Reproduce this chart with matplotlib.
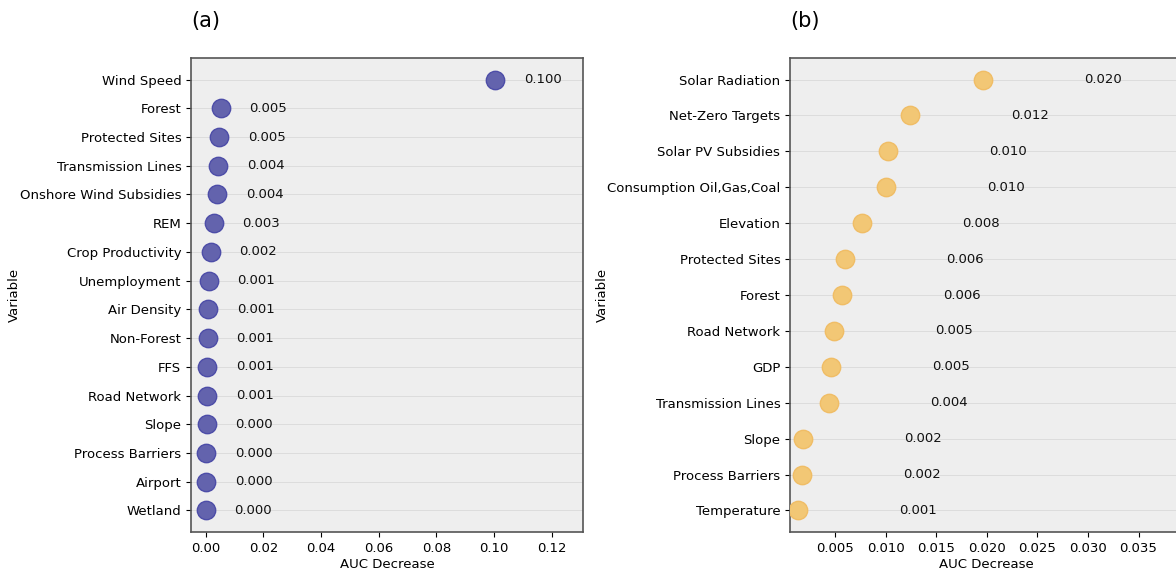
import matplotlib
matplotlib.use("Agg")
import matplotlib.pyplot as plt

# Permutation importance, wind model
wind_vars = ["Wind Speed", "Forest", "Protected Sites", "Transmission Lines",
             "Onshore Wind Subsidies", "REM", "Crop Productivity", "Unemployment",
             "Air Density", "Non-Forest", "FFS", "Road Network", "Slope",
             "Process Barriers", "Airport", "Wetland"]
wind_auc = [0.1003, 0.0052, 0.0046, 0.0043, 0.0039, 0.0028, 0.0017, 0.0010,
            0.0009, 0.0007, 0.0006, 0.0006, 0.0003, 0.0002, 0.0001, 0.0000]

# Permutation importance, solar model
solar_vars = ["Solar Radiation", "Net-Zero Targets", "Solar PV Subsidies",
              "Consumption Oil,Gas,Coal", "Elevation", "Protected Sites", "Forest",
              "Road Network", "GDP", "Transmission Lines", "Slope",
              "Process Barriers", "Temperature"]
solar_auc = [0.0196, 0.0124, 0.0102, 0.0100, 0.0076, 0.0060, 0.0057,
             0.0049, 0.0046, 0.0044, 0.0018, 0.0017, 0.0013]

FS = 9.5


def importance_panel(ax, names, values, face, edge, xlim, ylabel_x, label_offset=0.01):
    ypos = list(range(len(names)))[::-1]
    ax.set_facecolor("#eeeeee")
    ax.grid(axis="y", color="#dcdcdc", linewidth=0.7)
    ax.set_axisbelow(True)
    ax.scatter(values, ypos, s=175, facecolor=face, edgecolor=edge,
               linewidth=1.0, zorder=3)
    for v, y in zip(values, ypos):
        ax.text(v + label_offset, y, f"{v:.3f}", va="center", ha="left",
                fontsize=FS, color="#111111")
    ax.set_yticks(ypos)
    ax.set_yticklabels(names, fontsize=FS)
    ax.set_xlim(*xlim)
    ax.tick_params(axis="x", labelsize=FS)
    ax.set_xlabel("AUC Decrease", fontsize=FS, labelpad=2)
    ax.set_ylabel("Variable", fontsize=FS)
    ax.yaxis.set_label_coords(ylabel_x, 0.5)
    for sp in ax.spines.values():
        sp.set_color("#555555")
        sp.set_linewidth(1.2)


fig = plt.figure(figsize=(11.76, 5.72), dpi=100)
ax1 = fig.add_axes([0.1624, 0.0699, 0.3333, 0.8287])
ax2 = fig.add_axes([0.6718, 0.0699, 0.3333, 0.8287])

importance_panel(ax1, wind_vars, wind_auc, (0.39, 0.39, 0.68), (0.30, 0.30, 0.66),
                 (-0.0051, 0.1308), -0.434)
importance_panel(ax2, solar_vars, solar_auc, (0.95, 0.78, 0.46), (0.94, 0.74, 0.40),
                 (0.00053, 0.0393), -0.462)
ax2.set_xticks([0.005, 0.010, 0.015, 0.020, 0.025, 0.030, 0.035])

fig.text(0.163, 0.964, "(a)", fontsize=15, va="center")
fig.text(0.672, 0.964, "(b)", fontsize=15, va="center")

fig.savefig("out.png", dpi=100)
